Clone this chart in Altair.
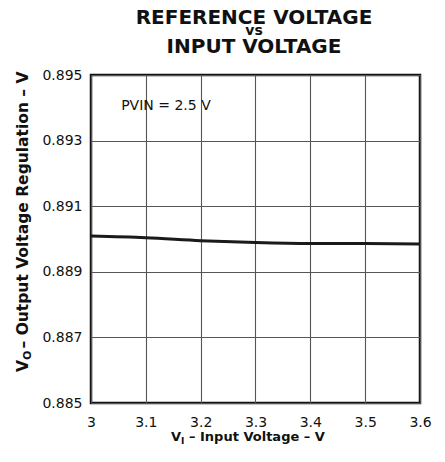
import altair as alt
import pandas as pd

# Data
vin = [3.0, 3.1, 3.2, 3.3, 3.4, 3.5, 3.6]
vout = [0.89009, 0.89004, 0.88995, 0.88989, 0.88986, 0.88986, 0.88985]

x_ticks = [3.0, 3.1, 3.2, 3.3, 3.4, 3.5, 3.6]
y_ticks = [0.885, 0.887, 0.889, 0.891, 0.893, 0.895]

note_text = ["PVIN = 2.5 V"]
note_x = [3.055]
note_y = [0.89407]

title_lines = ["REFERENCE VOLTAGE", "vs", "INPUT VOLTAGE"]

df = pd.DataFrame({"vin": vin, "vout": vout})
notes = pd.DataFrame({"t": note_text, "x": note_x, "y": note_y})

FONT = "DejaVu Sans"

xscale = alt.Scale(domain=[3.0, 3.6], nice=False, zero=False)
yscale = alt.Scale(domain=[0.885, 0.895], nice=False, zero=False)

base = alt.Chart(df)

line = base.mark_line(color="#1a1a1a", strokeWidth=3, interpolate="monotone").encode(
    x=alt.X("vin:Q", scale=xscale,
            axis=alt.Axis(values=x_ticks, format=".1~f", title=None,
                          labelPadding=12, labelFlush=False)),
    y=alt.Y("vout:Q", scale=yscale,
            axis=alt.Axis(values=y_ticks, format=".3f", title=None,
                          labelPadding=9, labelFlush=False)),
)

note = alt.Chart(notes).mark_text(
    align="left", baseline="middle", font=FONT, fontSize=14, color="#111"
).encode(x=alt.X("x:Q", scale=xscale), y=alt.Y("y:Q", scale=yscale), text="t:N")

def label(txt, px, py, size, angle=0, bold=True, align="left"):
    d = pd.DataFrame({"t": [txt]})
    kw = dict(align=align, baseline="alphabetic", font=FONT, fontSize=size,
              fontWeight="bold" if bold else "normal", color="#111")
    if angle:
        kw["angle"] = angle
    return alt.Chart(d).mark_text(**kw).encode(
        x=alt.value(px), y=alt.value(py), text="t:N")

# chart title (three lines)
t1 = label(title_lines[0], 163, -51, 20, align="center")
t2 = label(title_lines[1], 163, -40, 14, align="center")
t3 = label(title_lines[2], 163, -22, 20, align="center")

# x-axis title: V_I – Input Voltage – V
xt1 = label("V", 80, 366, 13)
xt2 = label("I", 90, 369, 9)
xt3 = label("– Input Voltage – V", 98, 366, 13)

# y-axis title: V_O – Output Voltage Regulation – V (rotated)
yt1 = label("V", -63, 297, 15.5, angle=270)
yt2 = label("O", -60, 285, 11, angle=270)
yt3 = label("– Output Voltage Regulation – V", -63, 273.5, 15.5, angle=270)

chart = alt.layer(line, note, t1, t2, t3, xt1, xt2, xt3, yt1, yt2, yt3).properties(
    width=329,
    height=328,
    autosize=alt.AutoSizeParams(type="none"),
    padding={"left": 83, "top": 67, "right": 17, "bottom": 51},
).configure_view(
    stroke="#111", strokeWidth=2.5
).configure_axis(
    domain=False, ticks=False, grid=True, gridColor="#555", gridWidth=1.1,
    labelFont=FONT, labelFontSize=14, labelColor="#111",
)

chart.save("out.html", embed_options={"renderer": "svg", "actions": False})
